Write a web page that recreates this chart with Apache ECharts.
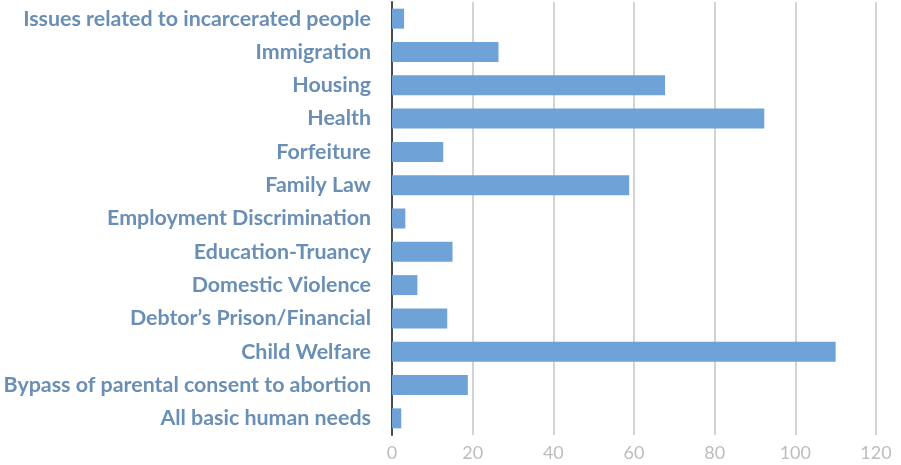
<!DOCTYPE html>
<html><head><meta charset="utf-8">
<script src="https://cdn.jsdelivr.net/npm/echarts@6/dist/echarts.min.js"></script>
<style>html,body{margin:0;padding:0;background:#fff}#c{width:901px;height:465px}</style>
</head><body><div id="c"></div>
<script>
const categories = ["All basic human needs","Bypass of parental consent to abortion","Child Welfare","Debtor\u2019s Prison/Financial","Domestic Violence","Education-Truancy","Employment Discrimination","Family Law","Forfeiture","Health","Housing","Immigration","Issues related to incarcerated people"];
const values = [2.3, 18.8, 110, 13.7, 6.3, 15, 3.3, 58.8, 12.7, 92.3, 67.7, 26.4, 3];
const xTicks = [0, 20, 40, 60, 80, 100, 120];

const chart = echarts.init(document.getElementById('c'), null, {renderer:'canvas'});
chart.setOption({
  animation:false,
  grid:{left:392, right:25, top:2, bottom:30, containLabel:false},
  xAxis:{type:'value', min:xTicks[0], max:xTicks[xTicks.length-1], interval:20,
    axisLine:{show:false}, axisTick:{show:false},
    axisLabel:{color:'#bdbdbd', fontFamily:'Lato', fontSize:18, margin:9},
    splitLine:{lineStyle:{color:'#d3d3d3', width:2}}},
  yAxis:{type:'category', data:categories,
    axisLine:{lineStyle:{color:'#4a4a4a', width:2}}, axisTick:{show:false},
    axisLabel:{color:'#6a8fb5', fontFamily:'Lato', fontWeight:'bold', fontSize:21.4, margin:21}},
  series:[{type:'bar', data:values, barWidth:20, itemStyle:{color:'#6fa3d8'}}]
});
</script></body></html>
